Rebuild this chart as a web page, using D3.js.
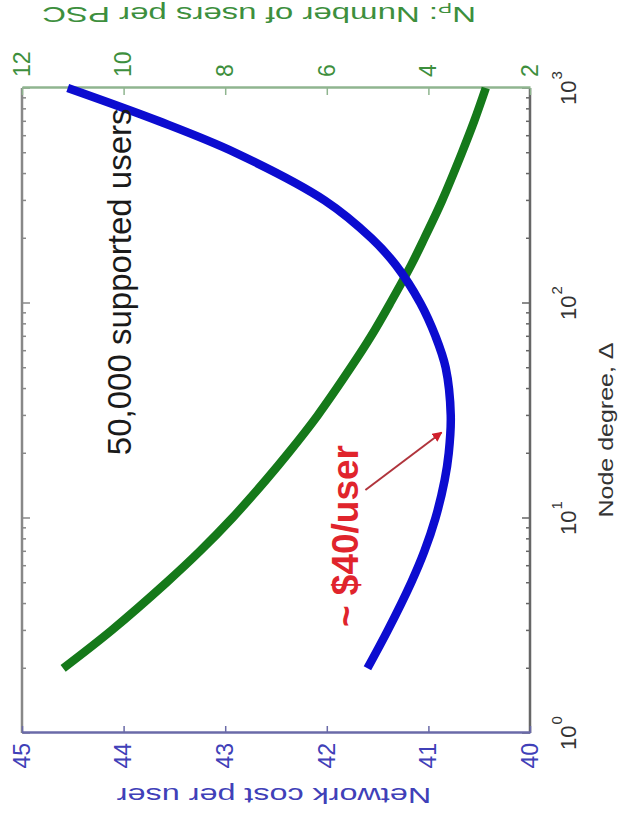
<!DOCTYPE html>
<html>
<head>
<meta charset="utf-8">
<script src="https://cdn.jsdelivr.net/npm/d3@7"></script>
<style>
  body { margin: 0; background: #fff; }
  svg { display: block; font-family: "Liberation Sans", Arial, sans-serif; }
</style>
</head>
<body>
<svg width="633" height="828"></svg>
<script>
// node degree (log x) and the two series
const degree = [2, 3, 5, 7, 10, 15, 20, 30, 50, 70, 100, 150, 200, 300, 500, 700, 1000];
const costPerUser = [41.60, 41.40, 41.17, 41.04, 40.93, 40.84, 40.80, 40.78, 40.83, 40.93, 41.08, 41.32, 41.56, 42.02, 42.90, 43.65, 44.55];
const usersPerPSC = [11.19, 10.24, 9.16, 8.50, 7.86, 7.20, 6.76, 6.18, 5.53, 5.13, 4.75, 4.34, 4.08, 3.73, 3.34, 3.10, 2.87];

const costTicks = [40, 41, 42, 43, 44, 45];
const npTicks = [2, 4, 6, 8, 10, 12];
const degreeMajor = [1, 10, 100, 1000];

let svg = d3.select("svg");

// the figure is drawn upright (828 wide, 633 tall) and then turned a quarter turn
const W = 828, H = 633;
const margin = {top: 22, right: 88, bottom: 103, left: 95};

let g = svg.append("g")
    .attr("transform", `translate(0,${W}) rotate(-90)`);

let x = d3.scaleLog().domain([1, 1000]).range([margin.left, W - margin.right]);
let yCost = d3.scaleLinear().domain([40, 45]).range([H - margin.bottom, margin.top]);
let yNp = d3.scaleLinear().domain([2, 12]).range([H - margin.bottom, margin.top]);

const blue = "#0c0cd0", green = "#15791a";
const blueText = "#4040b8", greenText = "#3d8f3d", grayText = "#333";
const fontSize = 23;

// minor / major ticks on bottom and top of the log axis
let minor = x.ticks().filter(d => !degreeMajor.includes(d));

g.append("g")
    .selectAll("line")
    .data(minor)
    .enter()
    .append("line")
    .attr("x1", d => x(d)).attr("x2", d => x(d))
    .attr("y1", H - margin.bottom).attr("y2", H - margin.bottom - 4)
    .attr("stroke", "#666").attr("stroke-width", 1.5);

g.append("g")
    .selectAll("line")
    .data(minor)
    .enter()
    .append("line")
    .attr("x1", d => x(d)).attr("x2", d => x(d))
    .attr("y1", margin.top).attr("y2", margin.top + 4)
    .attr("stroke", "#888").attr("stroke-width", 1.5);

g.append("g")
    .selectAll("line")
    .data(degreeMajor)
    .enter()
    .append("line")
    .attr("x1", d => x(d)).attr("x2", d => x(d))
    .attr("y1", H - margin.bottom).attr("y2", H - margin.bottom - 8)
    .attr("stroke", "#666").attr("stroke-width", 1.5);

g.append("g")
    .selectAll("line")
    .data(degreeMajor)
    .enter()
    .append("line")
    .attr("x1", d => x(d)).attr("x2", d => x(d))
    .attr("y1", margin.top).attr("y2", margin.top + 8)
    .attr("stroke", "#888").attr("stroke-width", 1.5);

// box
g.append("line")
    .attr("x1", margin.left).attr("x2", W - margin.right)
    .attr("y1", H - margin.bottom).attr("y2", H - margin.bottom)
    .attr("stroke", "#666").attr("stroke-width", 2.5);
g.append("line")
    .attr("x1", margin.left).attr("x2", W - margin.right)
    .attr("y1", margin.top).attr("y2", margin.top)
    .attr("stroke", "#888").attr("stroke-width", 2.5);

// log tick labels 10^k
let xl = g.append("g")
    .selectAll("text")
    .data(degreeMajor)
    .enter()
    .append("text")
    .attr("x", d => x(d))
    .attr("y", H - margin.bottom + 46)
    .attr("text-anchor", "middle")
    .attr("font-size", 22)
    .attr("fill", grayText);
xl.append("tspan").text("10");
xl.append("tspan")
    .attr("font-size", 15)
    .attr("dy", -14)
    .attr("dx", 1)
    .text(d => Math.round(Math.log10(d)));

// left axis: network cost
let costAxis = g.append("g")
    .attr("transform", `translate(${margin.left},0)`)
    .call(d3.axisLeft(yCost).tickValues(costTicks).tickFormat(d3.format("d"))
        .tickSizeInner(-7).tickSizeOuter(0).tickPadding(10));
costAxis.select(".domain").attr("stroke", "#6a6aa8").attr("stroke-width", 2.5);
costAxis.selectAll(".tick line").attr("stroke", "#6a6aa8").attr("stroke-width", 1.5);
costAxis.selectAll(".tick text")
    .attr("font-size", fontSize).attr("fill", blueText)
    .attr("font-family", "Liberation Sans, Arial, sans-serif");

// right axis: users per PSC
let npAxis = g.append("g")
    .attr("transform", `translate(${W - margin.right},0)`)
    .call(d3.axisRight(yNp).tickValues(npTicks).tickFormat(d3.format("d"))
        .tickSizeInner(-7).tickSizeOuter(0).tickPadding(11));
npAxis.select(".domain").attr("stroke", "#8fb58f").attr("stroke-width", 2.5);
npAxis.selectAll(".tick line").attr("stroke", "#8fb58f").attr("stroke-width", 1.5);
npAxis.selectAll(".tick text")
    .attr("font-size", fontSize).attr("fill", greenText)
    .attr("font-family", "Liberation Sans, Arial, sans-serif");

// curves
let costLine = d3.line()
    .x((d, i) => x(degree[i]))
    .y(d => yCost(d))
    .curve(d3.curveCatmullRom.alpha(0.5));

let npLine = d3.line()
    .x((d, i) => x(degree[i]))
    .y(d => yNp(d))
    .curve(d3.curveCatmullRom.alpha(0.5));

g.append("path")
    .datum(usersPerPSC)
    .attr("d", npLine)
    .attr("fill", "none")
    .attr("stroke", green)
    .attr("stroke-width", 8.5);

g.append("path")
    .datum(costPerUser)
    .attr("d", costLine)
    .attr("fill", "none")
    .attr("stroke", blue)
    .attr("stroke-width", 8.5);

// axis titles
g.append("text")
    .attr("transform", `translate(398,${H - 20}) scale(1.19,1)`)
    .attr("text-anchor", "middle")
    .attr("font-size", 21)
    .attr("fill", grayText)
    .text("Node degree, \u0394");

g.append("text")
    .attr("transform", `translate(40,274) rotate(-90) scale(1.47,1)`)
    .attr("text-anchor", "middle")
    .attr("font-size", 22)
    .attr("fill", blueText)
    .text("Network cost per user");

let npTitle = g.append("text")
    .attr("transform", `translate(${W - 7},259) rotate(-90) scale(1.5,1)`)
    .attr("text-anchor", "middle")
    .attr("font-size", 22)
    .attr("fill", greenText);
npTitle.append("tspan").text("N");
npTitle.append("tspan").attr("font-size", 14).attr("dy", 4).text("P");
npTitle.append("tspan").attr("dy", -4).text(": Number of users per PSC");

// annotations
const supportedAt = [19.6, 43.93];
const priceAt = [3.11, 41.69];
const arrowFrom = [13.5, 41.62];
const arrowTo = [25, 40.87];

g.append("text")
    .attr("x", x(supportedAt[0]))
    .attr("y", yCost(supportedAt[1]))
    .attr("font-size", 33)
    .attr("fill", "#1a1a1a")
    .text("50,000 supported users");

g.append("text")
    .attr("x", x(priceAt[0]))
    .attr("y", yCost(priceAt[1]))
    .attr("font-size", 37)
    .attr("font-weight", "bold")
    .attr("fill", "#e0242c")
    .text("~ $40/user");

svg.append("defs")
    .append("marker")
    .attr("id", "head")
    .attr("viewBox", "0 0 10 10")
    .attr("refX", 9).attr("refY", 5)
    .attr("markerWidth", 5).attr("markerHeight", 5)
    .attr("orient", "auto")
    .append("path")
    .attr("d", "M0,0 L10,5 L0,10 z")
    .attr("fill", "#d0202c");

g.append("line")
    .attr("x1", x(arrowFrom[0])).attr("y1", yCost(arrowFrom[1]))
    .attr("x2", x(arrowTo[0])).attr("y2", yCost(arrowTo[1]))
    .attr("stroke", "#b0343c")
    .attr("stroke-width", 2)
    .attr("marker-end", "url(#head)");
</script>
</body>
</html>
